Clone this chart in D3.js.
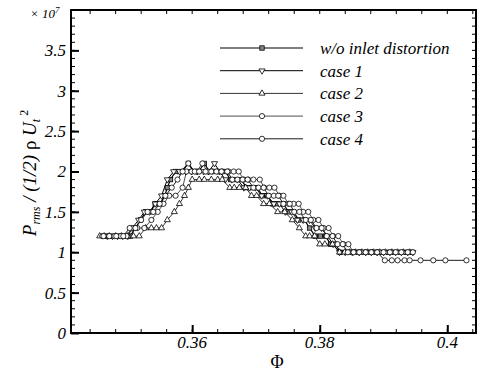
<!DOCTYPE html>
<html><head><meta charset="utf-8">
<script src="https://cdn.jsdelivr.net/npm/d3@7"></script>
<style>body{margin:0;background:#fff}svg{display:block}</style>
</head><body>
<svg id="chart" width="482" height="373"></svg>
<script>
// ---- data (Phi, Prms/(1/2 rho Ut^2) x 10^7) ----
const seriesNames = ["w/o inlet distortion", "case 1", "case 2", "case 3", "case 4"];
const xTicks = [0.36, 0.38, 0.4];
const xTickLabels = ["0.36", "0.38", "0.4"];
const yTicks = [0, 0.5, 1, 1.5, 2, 2.5, 3, 3.5];
const yTickLabels = ["0", "0.5", "1", "1.5", "2", "2.5", "3", "3.5"];

const woData = [[0.3464,1.2],[0.3472,1.2],[0.3480,1.2],[0.3488,1.2],[0.3495,1.2],[0.3503,1.2],[0.3511,1.3],[0.3519,1.4],[0.3527,1.5],[0.3535,1.5],[0.3542,1.6],[0.3550,1.6],[0.3557,1.7],[0.3561,1.8],[0.3566,1.9],[0.3574,2.0],[0.3583,2.0],[0.3594,2.1],[0.3602,2.0],[0.3610,2.0],[0.3619,2.1],[0.3627,2.0],[0.3635,2.0],[0.3644,2.0],[0.3652,2.0],[0.3660,1.9],[0.3668,1.9],[0.3677,1.9],[0.3685,1.8],[0.3693,1.8],[0.3702,1.8],[0.3710,1.7],[0.3718,1.7],[0.3726,1.6],[0.3734,1.6],[0.3743,1.6],[0.3751,1.5],[0.3759,1.5],[0.3767,1.4],[0.3776,1.4],[0.3784,1.3],[0.3793,1.2],[0.3801,1.2],[0.3809,1.2],[0.3817,1.1],[0.3825,1.1],[0.3832,1.0],[0.3842,1.0],[0.3851,1.0],[0.3861,1.0],[0.3870,1.0],[0.3880,1.0],[0.3889,1.0],[0.3898,1.0],[0.3908,1.0],[0.3917,1.0],[0.3927,1.0],[0.3936,1.0],[0.3944,1.0]];
const case1Data = [[0.3467,1.2],[0.3475,1.2],[0.3483,1.2],[0.3491,1.2],[0.3499,1.2],[0.3506,1.3],[0.3516,1.4],[0.3525,1.5],[0.3533,1.5],[0.3542,1.6],[0.3552,1.7],[0.3561,1.9],[0.3571,2.0],[0.3580,2.0],[0.3590,2.0],[0.3599,2.0],[0.3608,2.0],[0.3618,2.0],[0.3626,2.0],[0.3635,2.1],[0.3643,2.0],[0.3652,1.9],[0.3662,1.9],[0.3671,1.9],[0.3681,1.8],[0.3690,1.8],[0.3699,1.8],[0.3709,1.7],[0.3718,1.7],[0.3728,1.6],[0.3737,1.6],[0.3746,1.5],[0.3756,1.5],[0.3765,1.4],[0.3774,1.4],[0.3784,1.4],[0.3793,1.3],[0.3803,1.3],[0.3812,1.2],[0.3821,1.1],[0.3831,1.0],[0.3840,1.0],[0.3851,1.0],[0.3862,1.0],[0.3872,1.0],[0.3881,1.0],[0.3890,1.0],[0.3900,1.0],[0.3910,1.0],[0.3919,1.0],[0.3928,1.0],[0.3938,1.0],[0.3946,1.0]];
const case2Data = [[0.3455,1.2],[0.3462,1.2],[0.3470,1.2],[0.3480,1.2],[0.3489,1.2],[0.3499,1.2],[0.3508,1.2],[0.3517,1.2],[0.3527,1.3],[0.3536,1.3],[0.3544,1.3],[0.3552,1.3],[0.3561,1.4],[0.3572,1.5],[0.3580,1.6],[0.3588,1.7],[0.3594,1.8],[0.3600,1.9],[0.3611,1.9],[0.3619,1.9],[0.3630,1.9],[0.3640,1.9],[0.3647,1.9],[0.3659,1.8],[0.3666,1.8],[0.3674,1.8],[0.3684,1.8],[0.3693,1.7],[0.3701,1.7],[0.3712,1.6],[0.3721,1.6],[0.3734,1.5],[0.3745,1.5],[0.3757,1.4],[0.3768,1.3],[0.3778,1.2],[0.3784,1.2],[0.3792,1.2],[0.3800,1.1],[0.3808,1.1],[0.3820,1.1],[0.3831,1.0],[0.3839,1.0],[0.3847,1.0],[0.3856,1.0],[0.3866,1.0],[0.3875,1.0],[0.3884,1.0],[0.3894,1.0],[0.3903,1.0],[0.3913,1.0],[0.3922,1.0],[0.3931,1.0],[0.3941,1.0]];
const case3Data = [[0.3459,1.2],[0.3469,1.2],[0.3478,1.2],[0.3488,1.2],[0.3497,1.2],[0.3505,1.3],[0.3514,1.3],[0.3525,1.3],[0.3536,1.4],[0.3546,1.5],[0.3555,1.6],[0.3564,1.7],[0.3574,1.7],[0.3585,1.8],[0.3591,2.0],[0.3599,2.0],[0.3607,2.0],[0.3616,2.1],[0.3624,2.0],[0.3632,2.0],[0.3640,2.0],[0.3647,2.0],[0.3657,2.0],[0.3665,2.0],[0.3673,2.0],[0.3681,1.9],[0.3688,1.9],[0.3696,1.9],[0.3706,1.9],[0.3713,1.8],[0.3721,1.8],[0.3729,1.8],[0.3737,1.7],[0.3743,1.7],[0.3751,1.6],[0.3759,1.6],[0.3767,1.6],[0.3774,1.5],[0.3782,1.5],[0.3790,1.4],[0.3798,1.4],[0.3806,1.3],[0.3814,1.3],[0.3821,1.2],[0.3829,1.2],[0.3837,1.1],[0.3845,1.1],[0.3853,1.0],[0.3862,1.0],[0.3872,1.0],[0.3881,1.0],[0.3890,1.0],[0.3900,1.0],[0.3910,1.0],[0.3919,1.0],[0.3928,1.0],[0.3938,1.0],[0.3946,1.0]];
const case4Data = [[0.3461,1.2],[0.3470,1.2],[0.3481,1.2],[0.3492,1.2],[0.3502,1.3],[0.3511,1.3],[0.3520,1.4],[0.3530,1.5],[0.3539,1.5],[0.3549,1.6],[0.3558,1.7],[0.3568,1.8],[0.3577,1.9],[0.3585,2.0],[0.3594,2.1],[0.3604,2.0],[0.3611,2.0],[0.3621,2.0],[0.3630,2.0],[0.3638,2.0],[0.3646,2.0],[0.3655,2.0],[0.3663,1.9],[0.3671,1.9],[0.3679,1.9],[0.3687,1.9],[0.3696,1.8],[0.3704,1.8],[0.3712,1.8],[0.3720,1.7],[0.3728,1.7],[0.3735,1.7],[0.3743,1.6],[0.3753,1.6],[0.3760,1.5],[0.3768,1.5],[0.3778,1.4],[0.3786,1.4],[0.3795,1.3],[0.3803,1.3],[0.3811,1.2],[0.3820,1.2],[0.3828,1.1],[0.3836,1.1],[0.3844,1.0],[0.3853,1.0],[0.3862,1.0],[0.3872,1.0],[0.3881,1.0],[0.3890,1.0],[0.3902,0.9],[0.3913,0.9],[0.3922,0.9],[0.3933,0.9],[0.3941,0.9],[0.3958,0.9],[0.3978,0.9],[0.3997,0.9],[0.4030,0.9]];

const allData = [woData, case1Data, case2Data, case3Data, case4Data];
const markerTypes = ["square", "down", "up", "circle", "circle"];
const lineWidths = [1.2, 1.0, 0.8, 0.7, 0.9];

// ---- layout ----
const svg = d3.select("#chart");
const L = 71, R = 476, T = 10, B = 333;
const x = d3.scaleLinear().domain([0.341, 0.4045]).range([L, R]);
const y = d3.scaleLinear().domain([0, 4]).range([B, T]);
const SERIF = "Liberation Serif";

// minor ticks
const g = svg.append("g").attr("stroke", "#000").attr("stroke-width", 1);
d3.range(0.1, 4.0, 0.1).forEach(v => {
  g.append("line").attr("x1", L).attr("x2", L + 4).attr("y1", y(v)).attr("y2", y(v));
  g.append("line").attr("x1", R).attr("x2", R - 4).attr("y1", y(v)).attr("y2", y(v));
});
d3.range(0.344, 0.4045, 0.004).forEach(v => {
  g.append("line").attr("x1", x(v)).attr("x2", x(v)).attr("y1", B).attr("y2", B - 4);
  g.append("line").attr("x1", x(v)).attr("x2", x(v)).attr("y1", T).attr("y2", T + 4);
});

// axes (tick lines via d3 axis, labels drawn as serif text)
const yAxis = d3.axisLeft(y).tickValues(yTicks).tickSizeInner(-8).tickSizeOuter(0).tickFormat("");
const xAxis = d3.axisBottom(x).tickValues(xTicks).tickSizeInner(-8).tickSizeOuter(0).tickFormat("");
const ya = svg.append("g").attr("transform", `translate(${L},0)`).call(yAxis);
const xa = svg.append("g").attr("transform", `translate(0,${B})`).call(xAxis);
[ya, xa].forEach(a => {
  a.select(".domain").remove();
  a.selectAll(".tick line").attr("stroke", "#000").attr("stroke-width", 2);
  a.selectAll(".tick text").remove();
});
yTicks.forEach((v, i) => {
  svg.append("text").attr("font-family", SERIF).attr("font-style", "italic").attr("font-size", 17)
    .attr("fill", "#000").attr("x", L - 5).attr("y", y(v)).attr("dy", "0.35em")
    .attr("text-anchor", "end").text(yTickLabels[i]);
});
xTicks.forEach((v, i) => {
  svg.append("text").attr("font-family", SERIF).attr("font-style", "italic").attr("font-size", 17)
    .attr("fill", "#000").attr("x", x(v)).attr("y", 348)
    .attr("text-anchor", "middle").text(xTickLabels[i]);
});

// frame
svg.append("rect").attr("x", L).attr("y", T).attr("width", R - L).attr("height", B - T)
  .attr("fill", "none").attr("stroke", "#000").attr("stroke-width", 2);

// exponent
const ex = svg.append("text").attr("font-family", SERIF).attr("x", 30).attr("y", 18)
  .attr("font-style", "italic").attr("font-size", 13).attr("fill", "#000");
ex.append("tspan").attr("font-family", SERIF).text("× 10");
ex.append("tspan").attr("font-family", SERIF).attr("font-size", 9).attr("dy", -5).text("7");

// marker drawing
function drawMarker(sel, type, px, py) {
  if (type === "circle") {
    sel.append("circle").attr("cx", px).attr("cy", py).attr("r", 2.6)
      .attr("fill", "#fff").attr("stroke", "#000").attr("stroke-width", 0.8);
  } else if (type === "square") {
    sel.append("rect").attr("x", px - 2.2).attr("y", py - 2.2).attr("width", 4.4).attr("height", 4.4)
      .attr("fill", "#888").attr("stroke", "#000").attr("stroke-width", 0.8);
  } else {
    const sym = d3.symbol().type(d3.symbolTriangle).size(16);
    sel.append("path").attr("d", sym())
      .attr("transform", `translate(${px},${py})` + (type === "down" ? " rotate(180)" : ""))
      .attr("fill", "#fff").attr("stroke", "#000").attr("stroke-width", 0.8);
  }
}

const line = d3.line().x(d => x(d[0])).y(d => y(d[1]));
allData.forEach((data, i) => {
  svg.append("path").datum(data).attr("d", line).attr("fill", "none")
    .attr("stroke", "#000").attr("stroke-width", lineWidths[i]);
});
allData.forEach((data, i) => {
  const mg = svg.append("g");
  data.forEach(d => drawMarker(mg, markerTypes[i], x(d[0]), y(d[1])));
});

// legend
const legY0 = 48, legDy = 22.7;
seriesNames.forEach((name, i) => {
  const yy = legY0 + i * legDy;
  svg.append("line").attr("x1", 220).attr("x2", 303).attr("y1", yy).attr("y2", yy)
    .attr("stroke", "#000").attr("stroke-width", lineWidths[i]);
  drawMarker(svg, markerTypes[i], 262, yy);
  svg.append("text").attr("font-family", SERIF).attr("x", 320).attr("y", yy).attr("dy", "0.35em")
    .attr("font-style", "italic").attr("font-size", 17)
    .attr("fill", "#000").text(name);
});

// y label
const yl = svg.append("text").attr("font-family", SERIF).attr("transform", "translate(36,173) rotate(-90)")
  .attr("text-anchor", "middle").attr("font-size", 19).attr("fill", "#000");
yl.append("tspan").attr("font-style", "italic").text("P");
yl.append("tspan").attr("font-style", "italic").attr("font-size", 12).attr("dy", 4).text("rms");
yl.append("tspan").attr("font-style", "italic").attr("dy", -4).text(" / (1/2) ");
yl.append("tspan").text("ρ ");
yl.append("tspan").attr("font-style", "italic").text("U");
yl.append("tspan").attr("font-style", "italic").attr("font-size", 12).attr("dy", 4).text("t");
yl.append("tspan").attr("font-size", 12).attr("dy", -12).text(" 2");

// x label
svg.append("text").attr("font-family", SERIF).attr("x", 277).attr("y", 368).attr("text-anchor", "middle")
  .attr("font-size", 18).attr("fill", "#000").text("Φ");
</script>
</body></html>
